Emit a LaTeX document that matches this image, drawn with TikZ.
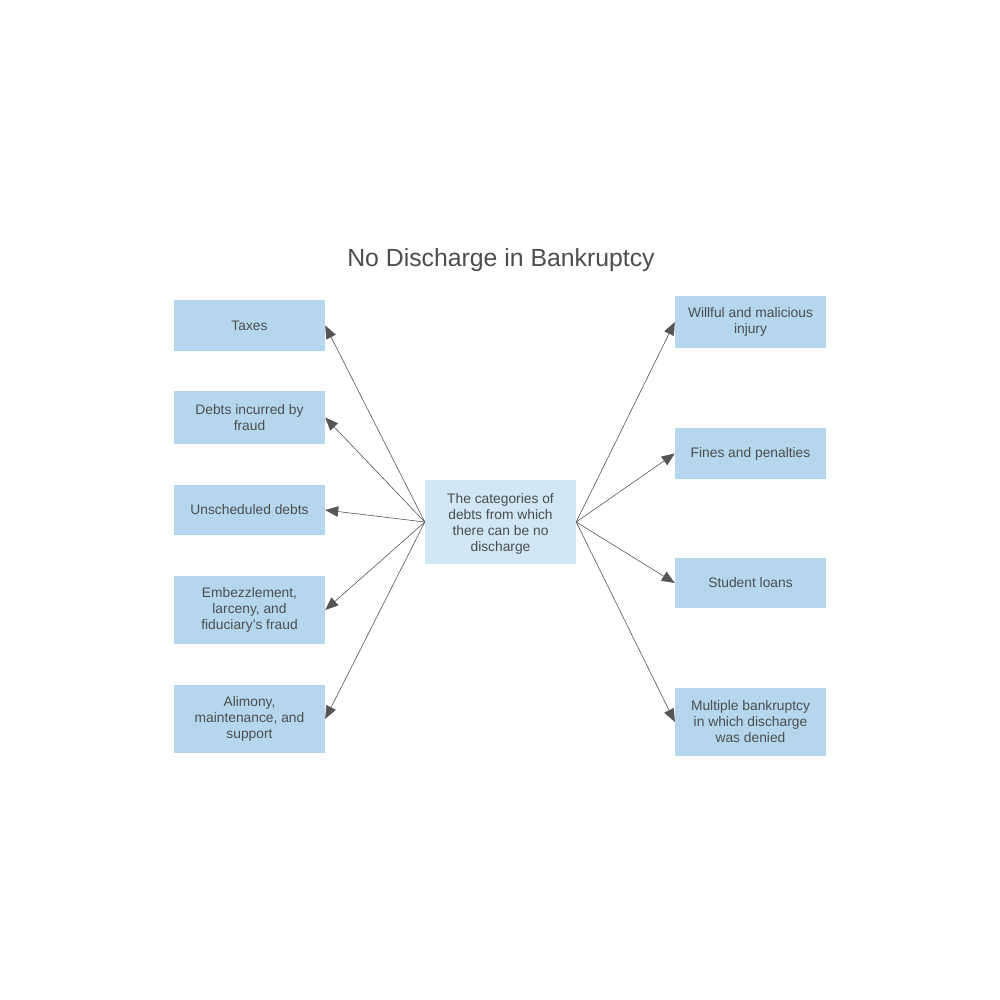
\documentclass[tikz,border=0pt]{standalone}
\usepackage{fontspec}
\setmainfont{Liberation Sans}
\usetikzlibrary{arrows.meta}
\definecolor{boxc}{HTML}{B5D7EE}
\definecolor{cenc}{HTML}{D0E7F6}
\definecolor{txtc}{HTML}{4D4D4D}
\definecolor{linec}{HTML}{555555}
\begin{document}
\begin{tikzpicture}[x=1pt,y=-1pt,
  bx/.style={fill=boxc,draw=none,minimum width=151pt,align=center,font=\fontsize{13.8}{16}\selectfont,text=txtc,inner sep=0pt},
  arr/.style={draw=linec,line width=0.6pt,-{Triangle[length=13pt,width=10.5pt]}}]
\useasboundingbox (0,0) rectangle (1000,1000);
\node[text=txtc,font=\fontsize{24.8}{28}\selectfont] (title) at (501,260) {No Discharge in Bankruptcy};
\node[bx,fill=cenc,minimum width=151pt,minimum height=84pt] (c) at (500.5,522) {};
\node[text=txtc,align=center,font=\fontsize{13.8}{16}\selectfont,inner sep=0pt] (ct) at (500.5,524) {The categories of\\debts from which\\there can be no\\discharge};
\node[bx,minimum height=51pt] (l1) at (249.5,325.5) {Taxes};
\node[bx,minimum height=53pt] (l2) at (249.5,417.5) {Debts incurred by\\fraud};
\node[bx,minimum height=50pt] (l3) at (249.5,510) {Unscheduled debts};
\node[bx,minimum height=68pt] (l4) at (249.5,610) {Embezzlement,\\larceny, and\\fiduciary's fraud};
\node[bx,minimum height=68pt] (l5) at (249.5,719) {Alimony,\\maintenance, and\\support};
\node[bx,minimum height=52pt] (r1) at (750.5,322) {Willful and malicious\\injury};
\node[bx,minimum height=51pt] (r2) at (750.5,453.5) {Fines and penalties};
\node[bx,minimum height=50pt] (r3) at (750.5,583) {Student loans};
\node[bx,minimum height=68pt] (r4) at (750.5,722) {Multiple bankruptcy\\in which discharge\\was denied};
\foreach \n in {l1,l2,l3,l4,l5} \draw[arr] (c.west) -- (\n.east);
\foreach \n in {r1,r2,r3,r4} \draw[arr] (c.east) -- (\n.west);
\end{tikzpicture}
\end{document}
